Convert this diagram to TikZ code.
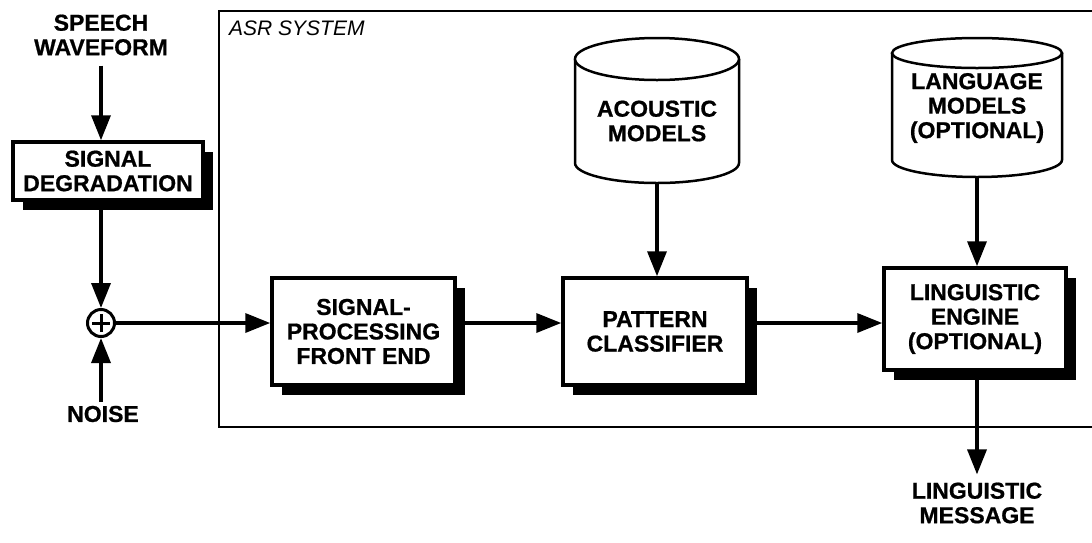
\documentclass[tikz,border=0pt]{standalone}
\usepackage{fontspec}
\setmainfont{Liberation Sans}[BoldFeatures={FakeBold=0.8}]
\usetikzlibrary{arrows.meta,shadows}
\begin{document}
\begin{tikzpicture}[x=1pt,y=-1pt,
  lbl/.style={font=\fontsize{23}{24.5}\selectfont\bfseries, align=center, inner sep=0pt},
  blk/.style={draw, line width=3.5pt, fill=white, align=center, inner sep=2pt,
    font=\fontsize{23}{24.5}\selectfont\bfseries,
    drop shadow={shadow xshift=10pt,shadow yshift=-10pt,opacity=1,fill=black}},
  arr/.style={line width=3.5pt, -{Triangle[length=25pt,width=19pt]}},
  cyl/.style={draw, line width=2.5pt, fill=white},
  frame/.style={draw, line width=2.5pt}]
\useasboundingbox (0,0) rectangle (1092,542);
% ASR system frame (right edge runs off the page)
\node[frame, minimum width=891pt, minimum height=416pt, inner sep=0pt] (asr) at (664.5,219) {};
\node[font=\fontsize{21}{24}\selectfont\itshape, anchor=west, inner sep=0pt] (asrl) at (229,28) {ASR SYSTEM};
% left chain
\node[lbl] (sw) at (101,35) {SPEECH\\WAVEFORM};
\node[blk, minimum width=190pt, minimum height=58pt] (sd) at (108,171) {SIGNAL\\DEGRADATION};
\node[circle, draw, line width=3pt, minimum size=27pt, inner sep=0pt] (sum) at (101,323) {};
\draw[line width=3pt] ([xshift=-9pt]sum.center) -- ([xshift=9pt]sum.center);
\draw[line width=3pt] ([yshift=-9pt]sum.center) -- ([yshift=9pt]sum.center);
\node[lbl] (noise) at (103,414) {NOISE};
\draw[arr, shorten <=10pt] (sw.south) -- (sw.south |- sd.north);
\draw[arr] (sd.south -| sum) -- (sum.north);
\draw[arr, shorten <=4pt] (noise.north -| sum) -- (sum.south);
% main blocks
\node[blk, minimum width=183pt, minimum height=107pt] (sp) at (363.5,331.5) {SIGNAL-\\PROCESSING\\FRONT END};
\node[blk, minimum width=184pt, minimum height=107pt] (pc) at (655,331.5) {PATTERN\\CLASSIFIER};
\node[blk, minimum width=182pt, minimum height=102pt] (le) at (975,319) {LINGUISTIC\\ENGINE\\(OPTIONAL)};
% cylinders
\draw[cyl] (575,59) -- (575,163) arc[start angle=180, end angle=360, x radius=82pt, y radius=20pt] -- (739,59);
\draw[cyl] (657,59) ellipse[x radius=82pt, y radius=21pt];
\node[lbl] (am) at (657,121) {ACOUSTIC\\MODELS};
\coordinate (amb) at (657,183);
\draw[cyl] (892,53) -- (892,160) arc[start angle=180, end angle=360, x radius=85pt, y radius=17pt] -- (1062,53);
\draw[cyl] (977,53) ellipse[x radius=85pt, y radius=15pt];
\node[lbl] (lm) at (977,108) {LANGUAGE\\MODELS\\(OPTIONAL)};
\coordinate (lmb) at (977,177);
% connectors
\draw[arr] (sum.east) -- (sum.east -| sp.west);
\draw[arr] (sum.east -| sp.east) -- (sum.east -| pc.west);
\draw[arr] (sum.east -| pc.east) -- (sum.east -| le.west);
\draw[arr] (amb) -- (amb |- pc.north);
\draw[arr] (lmb) -- (lmb |- le.north);
\node[lbl] (msg) at (977,503) {LINGUISTIC\\MESSAGE};
\draw[arr, shorten >=8pt] (le.south -| msg) -- (msg.north);
\end{tikzpicture}
\end{document}
